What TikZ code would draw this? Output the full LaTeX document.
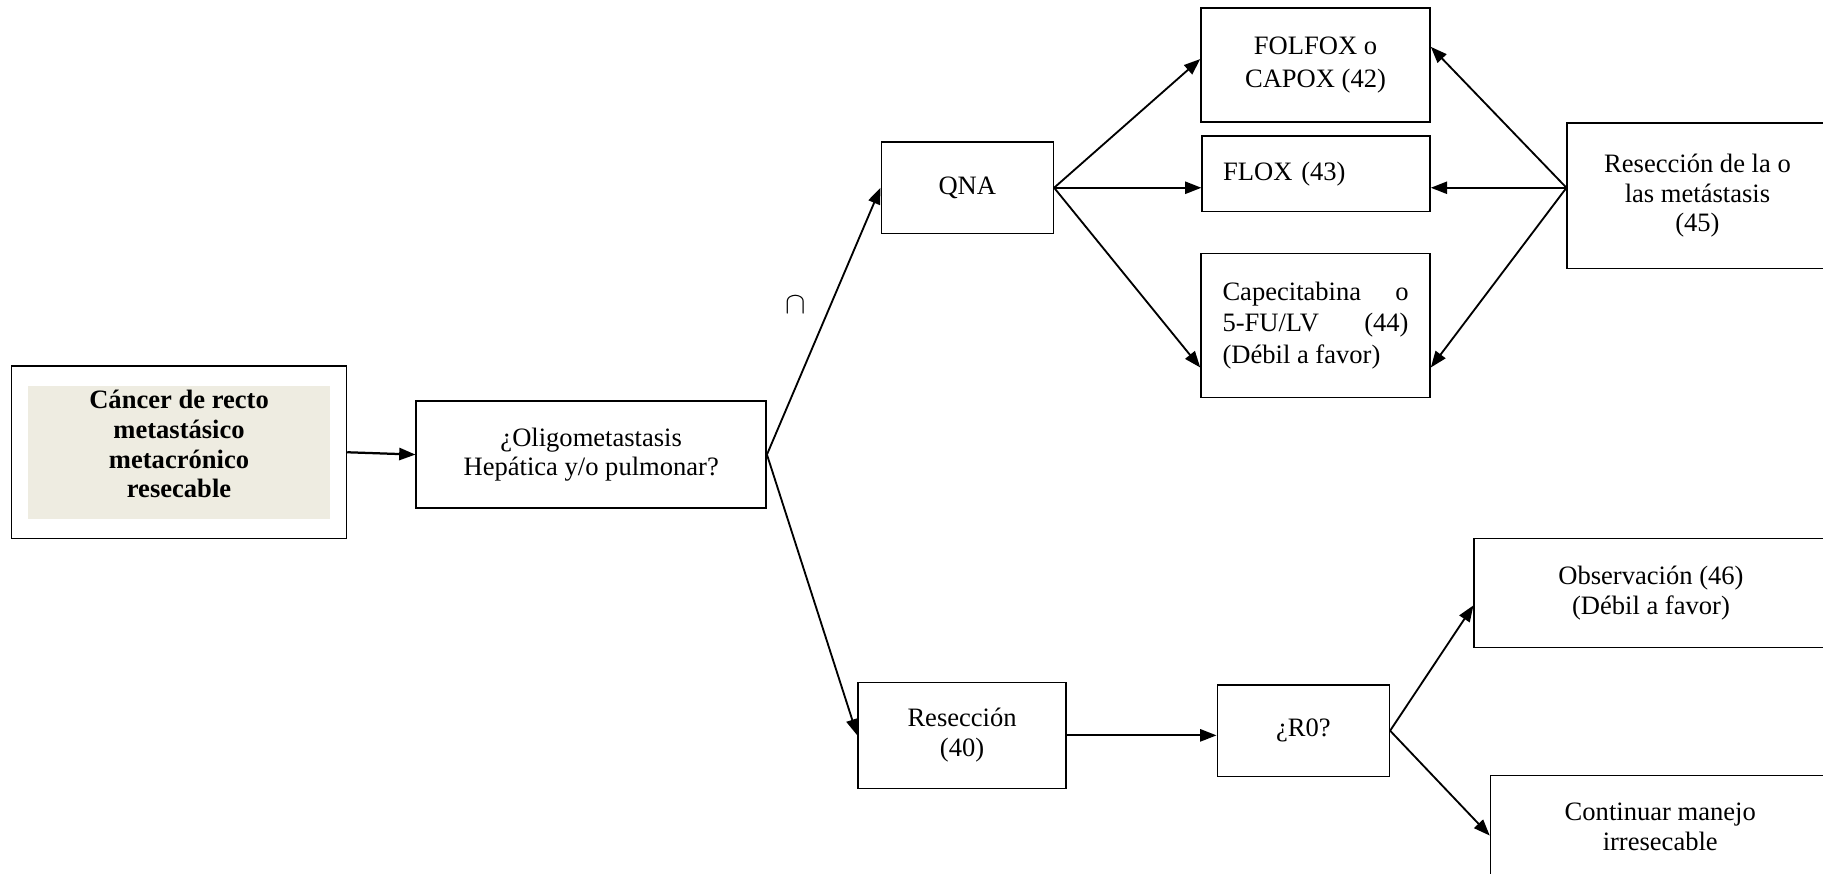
\documentclass[tikz,border=0pt]{standalone}
\usepackage{fontspec}
\setmainfont{Liberation Serif}
\usetikzlibrary{arrows.meta}
\definecolor{beige}{RGB}{238,236,225}
\tikzset{
  box/.style={draw, line width=0.75pt, align=center, inner sep=2pt,
    font=\fontsize{13}{14.5}\selectfont},
  arr/.style={line width=0.9pt, -{Triangle[length=0.28cm,width=0.21cm]}}
}
\begin{document}
\begin{tikzpicture}
   \useasboundingbox (0,0) rectangle (31.36,-15.02);
   \clip (0,0) rectangle (31.36,-15.02);

   \node [box, minimum width=5.76cm, minimum height=2.96cm] (cancer) at (3.08,-7.78) {};
   \fill [beige] (0.48,-6.64) rectangle (5.68,-8.92);
   \node [box, draw=none, font=\fontsize{13}{14.5}\selectfont\bfseries] (cancertxt) at (3.08,-7.64)
      {Cáncer de recto\\metastásico\\metacrónico\\resecable};
   \node [box, minimum width=6.02cm, minimum height=1.84cm] (oligo) at (10.17,-7.82)
      {¿Oligometastasis\\Hepática y/o pulmonar?};

   \node [box, minimum width=2.96cm, minimum height=1.58cm] (qna) at (16.64,-3.23) {QNA};
   \node [box, minimum width=3.94cm, minimum height=1.96cm] (folfox) at (22.63,-1.12)
      {FOLFOX o\\[2pt]CAPOX (42)};
   \node [box, minimum width=3.92cm, minimum height=1.30cm, text width=3.2cm, align=left] (flox) at (22.64,-2.99)
      {FLOX (43)};
   \node [box, minimum width=3.94cm, minimum height=2.48cm] (cape) at (22.63,-5.60)
      {\makebox[3.2cm]{Capecitabina\hfill o}\\[1pt]\makebox[3.2cm]{5-FU/LV\hfill (44)}\\[1pt]\makebox[3.2cm][l]{(Débil a favor)}};
   \node [box, minimum width=4.48cm, minimum height=2.50cm] (metas) at (29.20,-3.37)
      {Resección de la o\\las metástasis\\(45)};

   \node [box, minimum width=3.58cm, minimum height=1.82cm] (resec) at (16.55,-12.65)
      {Resección\\(40)};
   \node [box, minimum width=2.96cm, minimum height=1.58cm] (rcero) at (22.42,-12.57) {¿R0?};
   \node [box, minimum width=6.08cm, minimum height=1.88cm] (obs) at (28.40,-10.20)
      {Observación (46)\\(Débil a favor)};
   \node [box, minimum width=5.84cm, minimum height=1.76cm] (cont) at (28.56,-14.22)
      {Continuar manejo\\irresecable};

   \node [scale=1.5] (si) at (13.68,-5.24) {$\cap$};

   \draw [arr, line width=1.1pt] (cancer.east) -- (oligo.west);
   \draw [arr] (oligo.east) -- (qna.west);
   \draw [arr] (oligo.east) -- (resec.west);

   \draw [arr] (qna.east) -- (folfox.177);
   \draw [arr] (qna.east) -- (qna.east -| flox.west);
   \draw [arr] (qna.east) -- (cape.200);
   \draw [arr] (qna.east -| metas.west) -- (folfox.9);
   \draw [arr] (qna.east -| metas.west) -- (qna.east -| flox.east);
   \draw [arr] (qna.east -| metas.west) -- (cape.340);

   \draw [arr] (resec.east) -- (resec.east -| rcero.west);
   \draw [arr] (rcero.east) -- (obs.184);
   \draw [arr] (rcero.east) -- (cont.183);
\end{tikzpicture}
\end{document}
